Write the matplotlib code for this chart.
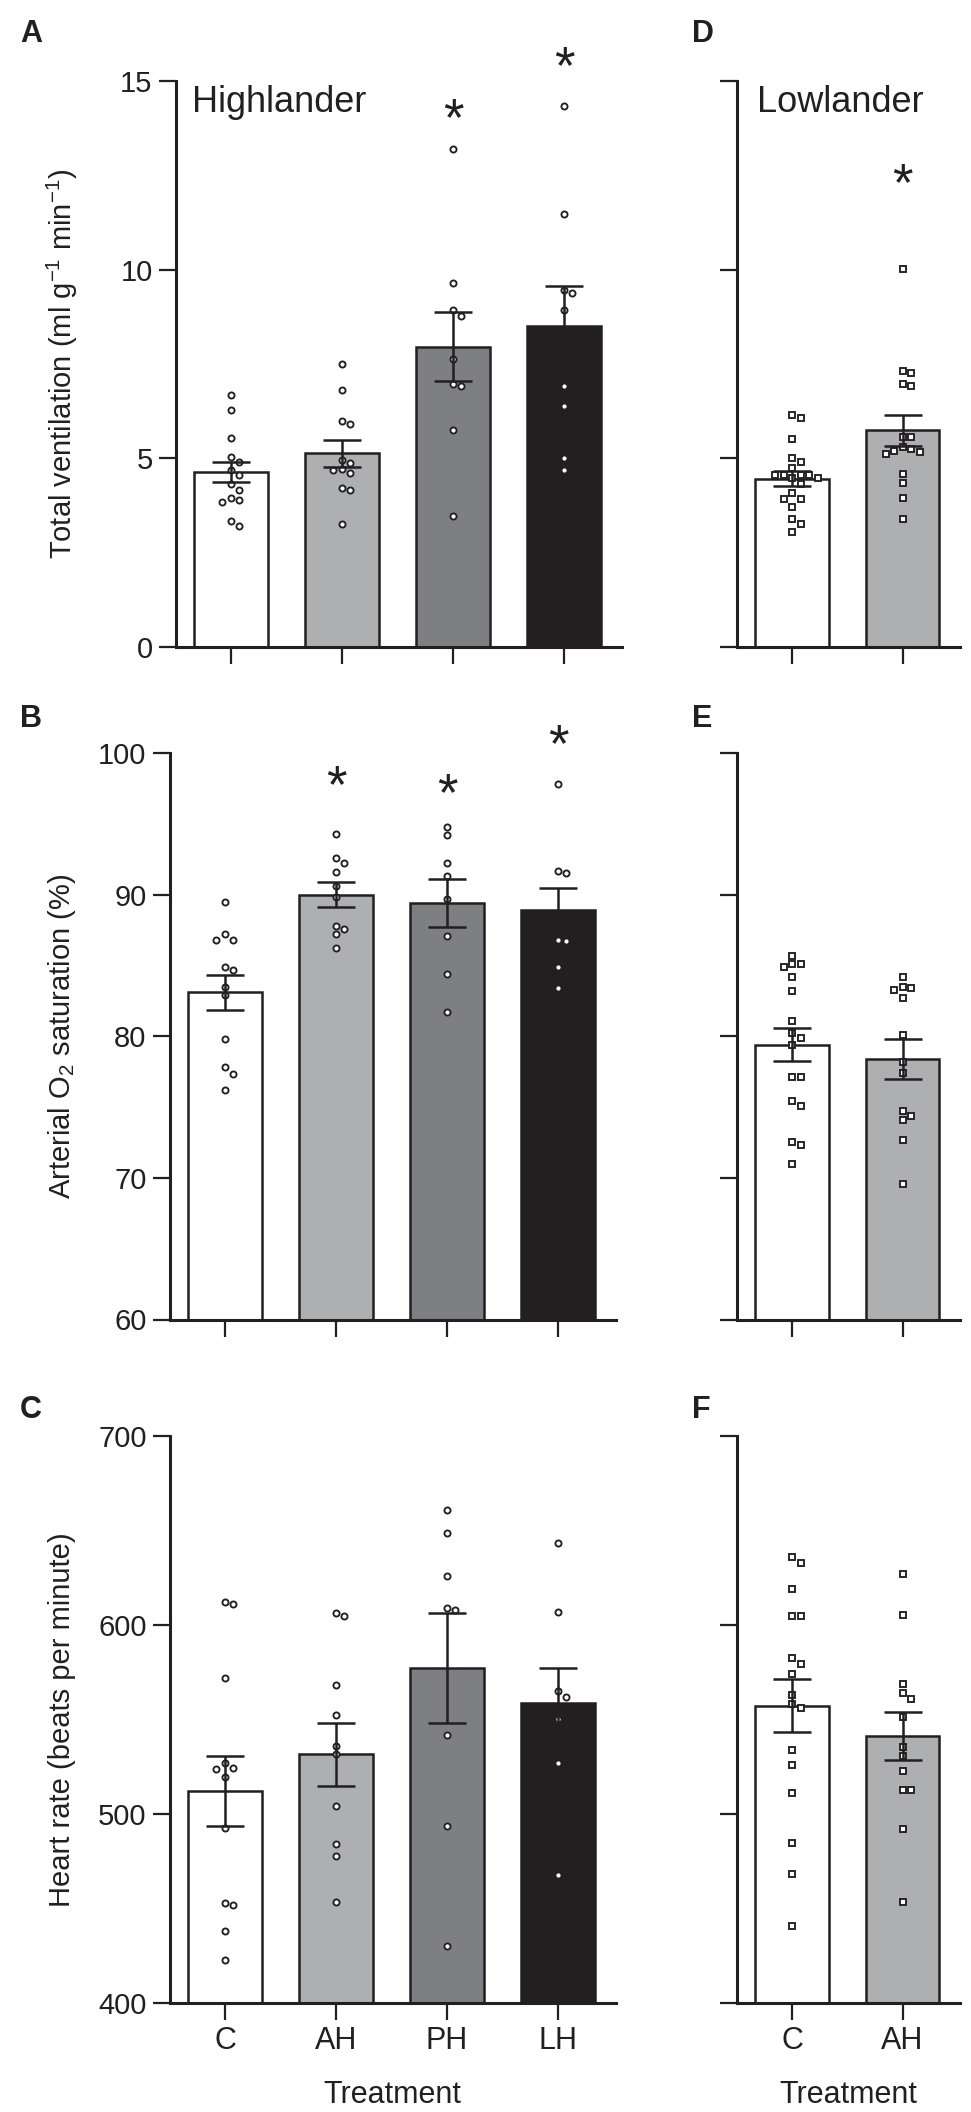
import numpy as np
import matplotlib
matplotlib.use("Agg")
import matplotlib.pyplot as plt
from matplotlib.textpath import TextPath
from matplotlib.font_manager import FontProperties

plt.rcParams["font.family"] = ["Liberation Sans", "DejaVu Sans"]
plt.rcParams["mathtext.fontset"] = "custom"
plt.rcParams["mathtext.rm"] = "Liberation Sans"
plt.rcParams["mathtext.it"] = "Liberation Sans:italic"
plt.rcParams["mathtext.bf"] = "Liberation Sans:bold"

# ---- data ----
high_groups = ["C", "AH", "PH", "LH"]
low_groups = ["C", "AH"]

# A: highlander total ventilation
vent_C = [6.69, 6.28, 5.55, 5.04, 4.89, 4.69, 4.56, 4.31, 4.16, 3.96, 3.90, 3.83, 3.34, 3.21]
vent_AH = [7.49, 6.81, 5.99, 5.90, 4.96, 4.87, 4.71, 4.69, 4.62, 4.22, 4.15, 3.25]
vent_PH = [13.20, 9.65, 8.94, 8.78, 7.64, 6.98, 6.91, 5.74, 3.46]
vent_LH = [14.34, 11.48, 9.47, 9.37, 8.92, 6.91, 6.40, 5.02, 4.69]
vent_mean = [4.63, 5.13, 7.96, 8.52]
vent_sem = [0.26, 0.35, 0.91, 1.06]
vent_star = {2: 14.29, 3: 15.66}

# D: lowlander total ventilation
low_vent_C = [6.14, 6.06, 5.51, 5.02, 4.89, 4.75, 4.57, 4.57, 4.57, 4.57, 4.49, 4.49,
              4.33, 4.08, 3.93, 3.93, 3.72, 3.40, 3.26, 3.04]
low_vent_AH = [10.02, 7.32, 7.25, 6.97, 6.91, 5.57, 5.57, 5.30, 5.24, 5.19, 5.17, 5.11,
               4.59, 4.34, 3.95, 3.40]
low_vent_mean = [4.46, 5.74]
low_vent_sem = [0.20, 0.40]
low_vent_star = {1: 12.56}

# B: highlander arterial O2 saturation
sat_C = [89.5, 87.2, 86.8, 86.8, 84.9, 84.7, 83.5, 82.9, 79.8, 77.8, 77.3, 76.2]
sat_AH = [94.3, 92.6, 92.2, 91.6, 90.6, 89.8, 87.8, 87.6, 87.2, 86.2]
sat_PH = [94.8, 94.2, 92.2, 91.3, 89.7, 87.1, 84.4, 81.7]
sat_LH = [97.8, 91.7, 91.5, 86.8, 86.7, 84.9, 83.4]
sat_mean = [83.1, 90.0, 89.4, 88.9]
sat_sem = [1.26, 0.86, 1.68, 1.59]
sat_star = {1: 98.45, 2: 97.9, 3: 101.34}

# E: lowlander arterial O2 saturation
low_sat_C = [85.7, 85.1, 85.1, 84.9, 84.2, 83.2, 81.1, 80.2, 79.9, 79.4, 77.1, 77.1,
             75.4, 75.1, 72.5, 72.3, 71.0]
low_sat_AH = [84.2, 83.5, 83.4, 83.3, 82.7, 80.1, 78.2, 77.4, 74.7, 74.4, 74.1, 72.7, 69.6]
low_sat_mean = [79.4, 78.4]
low_sat_sem = [1.17, 1.39]

# C: highlander heart rate
hr_C = [612.0, 610.9, 571.8, 526.8, 524.5, 523.6, 519.8, 492.4, 453.1, 451.9, 438.1, 422.8]
hr_AH = [606.2, 604.9, 568.3, 552.4, 536.0, 531.6, 504.2, 484.1, 477.8, 453.2]
hr_PH = [660.8, 648.5, 625.9, 608.8, 607.9, 541.9, 493.5, 430.2]
hr_LH = [643.2, 607.0, 565.2, 561.7, 550.1, 526.8, 467.6]
hr_mean = [512.3, 531.6, 577.2, 558.9]
hr_sem = [18.5, 16.7, 29.1, 18.2]

# F: lowlander heart rate
low_hr_C = [635.8, 632.8, 619.0, 604.9, 604.9, 582.6, 579.6, 574.1, 563.2, 558.3, 556.3,
            533.6, 525.9, 511.1, 484.6, 468.2, 440.9]
low_hr_AH = [626.9, 605.5, 569.0, 564.0, 560.9, 551.2, 535.4, 530.6, 522.7, 512.8, 512.8,
             491.9, 453.6]
low_hr_mean = [557.3, 541.3]
low_hr_sem = [13.9, 12.65]

DARK = "#231F20"
high_colors = ["white", "#AEAFB1", "#7E7F83", DARK]
low_colors = ["white", "#AEAFB1"]

STAR_SIZE = 38
# vertical centre of the asterisk ink, in em units above the baseline
_star_box = TextPath((0, 0), "*", size=1, prop=FontProperties(family="Liberation Sans")).get_extents()
STAR_CENTER = (_star_box.y0 + _star_box.y1) / 2

W, H = 971, 2112
fig = plt.figure(figsize=(W / 100, H / 100), dpi=100)


def add_axes_px(left, right, top, bottom):
    return fig.add_axes([left / W, 1 - bottom / H, (right - left) / W, (bottom - top) / H])


def swarm(ax, xc, values, marker):
    # spread overlapping points sideways (prism style scatter)
    pts = ax.transData.transform([(xc, v) for v in values])
    step, min_dist = 8.5, 7.6
    placed = []
    for px, py in pts:
        cand = px
        for k in [0, 1, -1, 2, -2, 3, -3, 4, -4]:
            cand = px + k * step
            if all((cand - qx) ** 2 + (py - qy) ** 2 >= min_dist ** 2 for qx, qy in placed):
                break
        placed.append((cand, py))
    xy = ax.transData.inverted().transform(placed)
    ax.plot(xy[:, 0], xy[:, 1], ls="none", marker=marker, ms=4.4, mfc="white",
            mec=DARK, mew=1.35, zorder=3, clip_on=False)


def draw_panel(ax, groups, means, sems, colors, ylim, yticks, marker,
               show_ylabels, xticklabels, stars=None):
    x = np.arange(len(groups))
    ax.set_xlim(-0.5, len(groups) - 0.48)
    ax.set_ylim(*ylim)
    ax.bar(x, means, width=0.667, color=colors, edgecolor=DARK, linewidth=1.8, zorder=1)
    for xi, vals in zip(x, groups):
        swarm(ax, xi, vals, marker)
    ax.errorbar(x, means, yerr=sems, fmt="none", ecolor=DARK, elinewidth=1.8,
                capsize=13.5, capthick=1.8, zorder=4)
    ax.spines[["top", "right"]].set_visible(False)
    for s in ["left", "bottom"]:
        ax.spines[s].set_linewidth(2.2)
        ax.spines[s].set_color(DARK)
    ax.set_yticks(yticks)
    ax.set_xticks(x)
    ax.tick_params(direction="out", length=12.5, width=1.6, color=DARK,
                   labelsize=21, pad=4, labelcolor=DARK)
    ax.tick_params(axis="x", labelsize=22)
    if not show_ylabels:
        ax.set_yticklabels([])
    if xticklabels:
        ax.set_xticklabels(xticklabels)
    else:
        ax.set_xticklabels([])
    if stars:
        for xi, y in stars.items():
            ax.annotate("*", (xi, y), xytext=(0, -STAR_CENTER * STAR_SIZE),
                        textcoords="offset points", ha="center", va="baseline",
                        fontsize=STAR_SIZE, color=DARK, annotation_clip=False)
    ax.patch.set_visible(False)


ax_a = add_axes_px(175.5, 621.7, 81, 647)
draw_panel(ax_a, [vent_C, vent_AH, vent_PH, vent_LH], vent_mean, vent_sem, high_colors,
           (0, 15), [0, 5, 10, 15], "o", True, None, vent_star)

ax_d = add_axes_px(737, 960, 81, 647)
draw_panel(ax_d, [low_vent_C, low_vent_AH], low_vent_mean, low_vent_sem, low_colors,
           (0, 15), [0, 5, 10, 15], "s", False, None, low_vent_star)

ax_b = add_axes_px(169.5, 615.7, 753, 1319.5)
draw_panel(ax_b, [sat_C, sat_AH, sat_PH, sat_LH], sat_mean, sat_sem, high_colors,
           (60, 100), [60, 70, 80, 90, 100], "o", True, None, sat_star)

ax_e = add_axes_px(737, 960, 753, 1319.5)
draw_panel(ax_e, [low_sat_C, low_sat_AH], low_sat_mean, low_sat_sem, low_colors,
           (60, 100), [60, 70, 80, 90, 100], "s", False, None)

ax_c = add_axes_px(169.5, 615.7, 1436, 2003)
draw_panel(ax_c, [hr_C, hr_AH, hr_PH, hr_LH], hr_mean, hr_sem, high_colors,
           (400, 700), [400, 500, 600, 700], "o", True, high_groups)

ax_f = add_axes_px(737, 960, 1436, 2003)
draw_panel(ax_f, [low_hr_C, low_hr_AH], low_hr_mean, low_hr_sem, low_colors,
           (400, 700), [400, 500, 600, 700], "s", False, low_groups)

# panel letters
for letter, x, y in [("A", 20, 42), ("D", 692, 42), ("B", 20, 727), ("E", 692, 727),
                     ("C", 20, 1418), ("F", 692, 1418)]:
    fig.text(x / W, 1 - y / H, letter, fontsize=22, weight="bold", color=DARK, va="baseline")

fig.text(192 / W, 1 - 112 / H, "Highlander", fontsize=26, color=DARK, va="baseline")
fig.text(757 / W, 1 - 112 / H, "Lowlander", fontsize=26, color=DARK, va="baseline")

# axis titles
fig.text(62 / W, 1 - 364 / H, "Total ventilation (ml g$^{-1}$ min$^{-1}$)", rotation=90,
         ha="center", va="center", fontsize=21, color=DARK)
fig.text(62 / W, 1 - 1036 / H, "Arterial O$_2$ saturation (%)", rotation=90,
         ha="center", va="center", fontsize=21, color=DARK)
fig.text(62 / W, 1 - 1720 / H, "Heart rate (beats per minute)", rotation=90,
         ha="center", va="center", fontsize=21, color=DARK)
fig.text(392.6 / W, 1 - 2103 / H, "Treatment", ha="center", va="baseline", fontsize=22, color=DARK)
fig.text(848.5 / W, 1 - 2103 / H, "Treatment", ha="center", va="baseline", fontsize=22, color=DARK)

fig.savefig("out.png", dpi=100, facecolor="white")
